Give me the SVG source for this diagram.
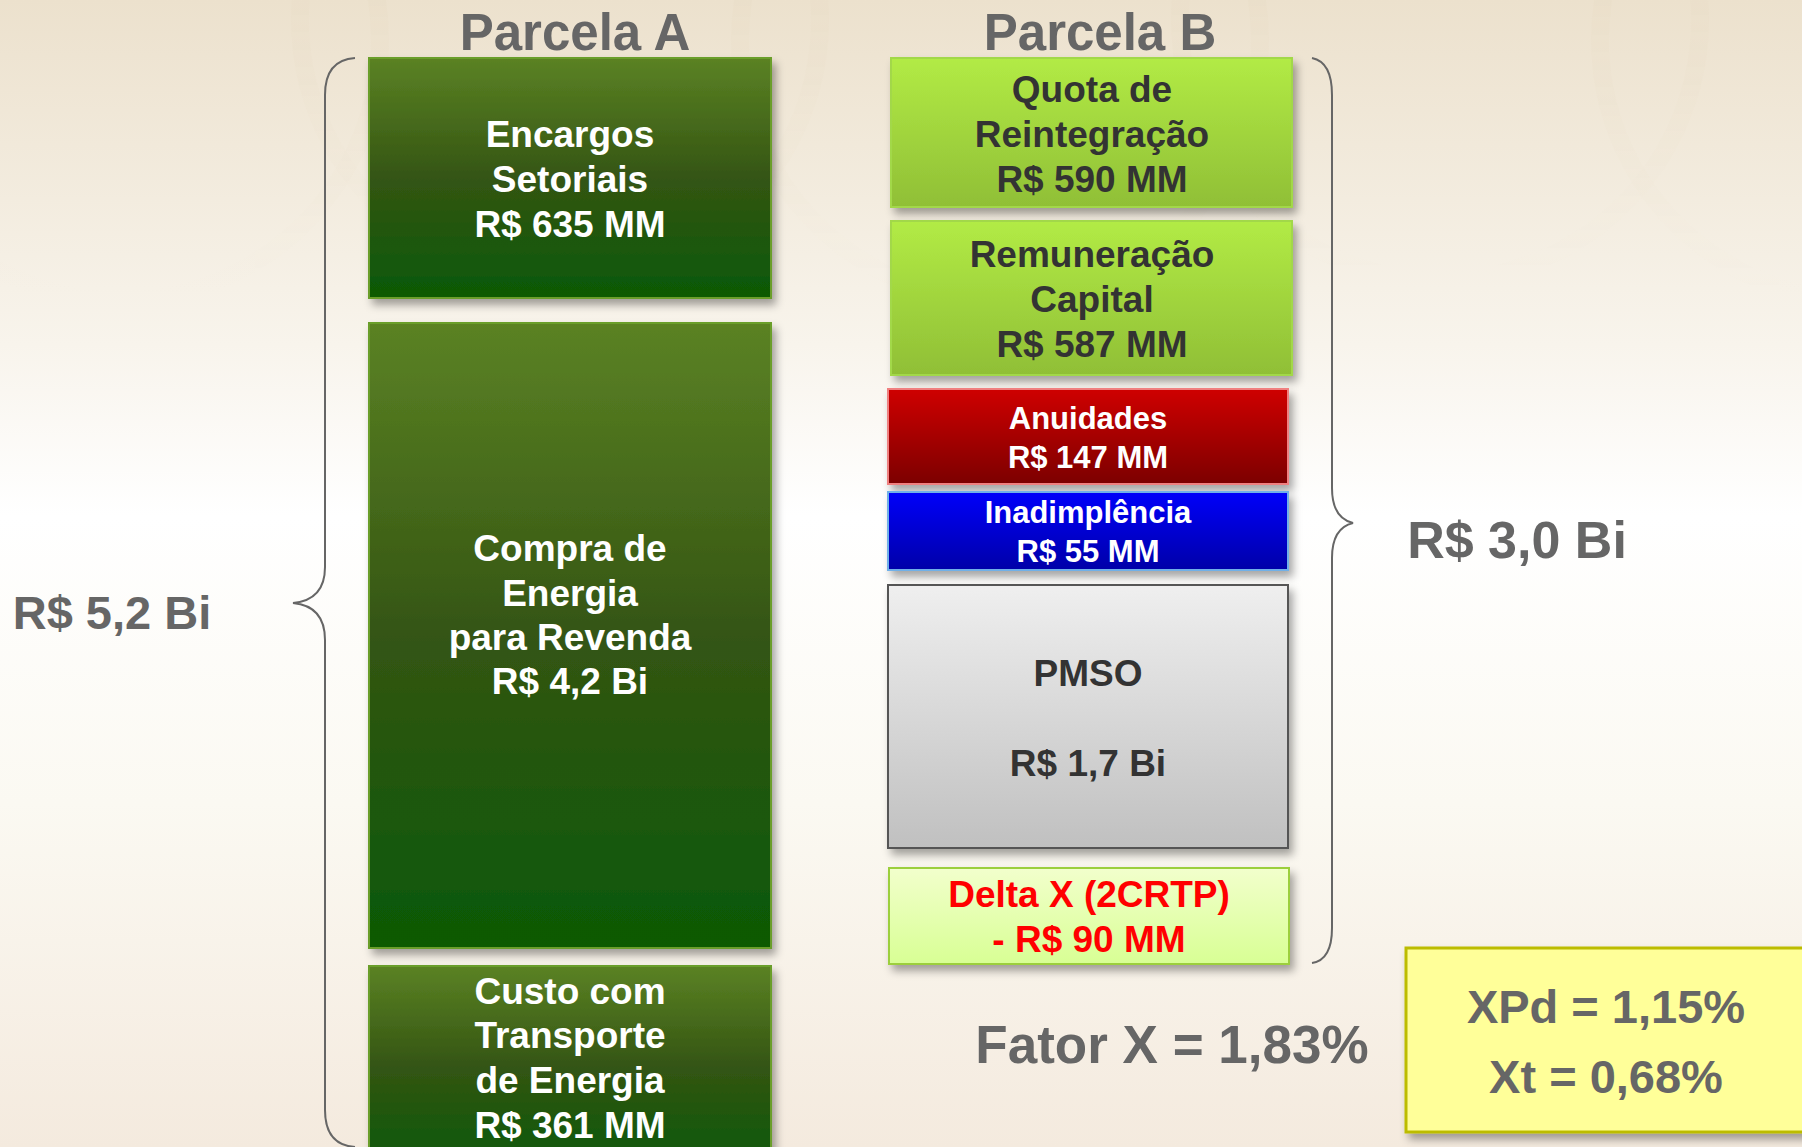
<svg xmlns="http://www.w3.org/2000/svg" width="1802" height="1147" viewBox="0 0 1802 1147">
<defs>
<linearGradient id="bg" x1="0" y1="0" x2="0" y2="1">
<stop offset="0" stop-color="#ece1cd"/>
<stop offset="0.3" stop-color="#f8f4ec"/>
<stop offset="0.45" stop-color="#ffffff"/>
<stop offset="0.7" stop-color="#fbf9f2"/>
<stop offset="1" stop-color="#f4eade"/>
</linearGradient>
<linearGradient id="fade" x1="0" y1="0" x2="0" y2="1">
<stop offset="0" stop-color="#d9c7a6" stop-opacity="0.35"/>
<stop offset="1" stop-color="#d9c7a6" stop-opacity="0"/>
</linearGradient>
<linearGradient id="gDark" x1="0" y1="0" x2="0" y2="1">
<stop offset="0" stop-color="#5b8224"/>
<stop offset="0.5" stop-color="#345513"/>
<stop offset="1" stop-color="#0a5a05"/>
</linearGradient>
<linearGradient id="gLight" x1="0" y1="0" x2="0" y2="1">
<stop offset="0" stop-color="#b2eb45"/>
<stop offset="1" stop-color="#90bf36"/>
</linearGradient>
<linearGradient id="gRed" x1="0" y1="0" x2="0" y2="1">
<stop offset="0" stop-color="#cf0000"/>
<stop offset="1" stop-color="#7c0000"/>
</linearGradient>
<linearGradient id="gBlue" x1="0" y1="0" x2="0" y2="1">
<stop offset="0" stop-color="#0000fa"/>
<stop offset="1" stop-color="#0000a8"/>
</linearGradient>
<linearGradient id="gGray" x1="0" y1="0" x2="0" y2="1">
<stop offset="0" stop-color="#efefef"/>
<stop offset="1" stop-color="#c0c0c0"/>
</linearGradient>
<linearGradient id="gDelta" x1="0" y1="0" x2="0" y2="1">
<stop offset="0" stop-color="#f2ffcc"/>
<stop offset="1" stop-color="#d8ff94"/>
</linearGradient>
<filter id="sh" x="-10%" y="-10%" width="125%" height="130%">
<feDropShadow dx="4" dy="6" stdDeviation="4" flood-color="#000" flood-opacity="0.35"/>
</filter>
<style>
text{font-family:"Liberation Sans",Arial,sans-serif;font-weight:bold;text-anchor:middle}
.w{fill:#ffffff;font-size:37px}
.d{fill:#333333;font-size:37px}
.ws{fill:#ffffff;font-size:31px}
.r{fill:#ff0000;font-size:37px}
.g{fill:#666666}
.brace{fill:none;stroke:#666666;stroke-width:2}
</style>
</defs>
<rect x="0" y="0" width="1802" height="1147" fill="url(#bg)"/>
<g opacity="0.35" fill="none" stroke="url(#fade)" stroke-width="18">
<circle cx="120" cy="40" r="260"/>
<circle cx="560" cy="20" r="260"/>
<circle cx="1000" cy="40" r="260"/>
<circle cx="1440" cy="20" r="260"/>
<circle cx="1860" cy="40" r="260"/>
</g>

<text class="g" x="575" y="50" font-size="51">Parcela A</text>
<text class="g" x="1100" y="50" font-size="51">Parcela B</text>

<g id="connectors">
<path class="brace" d="M355 58 Q325 60 325 95 L325 567 Q325 600 293 603 Q325 606 325 640 L325 1110 Q325 1145 355 1147"/>
<path class="brace" d="M1312 58 Q1332 62 1332 95 L1332 488 Q1332 518 1353 523 Q1332 528 1332 558 L1332 928 Q1332 960 1312 963"/>
</g>

<g id="encargos">
<rect x="369" y="58" width="402" height="240" fill="url(#gDark)" stroke="#6a9e2a" stroke-width="2" filter="url(#sh)"/>
<text class="w" x="570" y="147">Encargos</text>
<text class="w" x="570" y="192">Setoriais</text>
<text class="w" x="570" y="237">R$ 635 MM</text>
</g>
<g id="compra">
<rect x="369" y="323" width="402" height="625" fill="url(#gDark)" stroke="#6a9e2a" stroke-width="2" filter="url(#sh)"/>
<text class="w" x="570" y="561">Compra de</text>
<text class="w" x="570" y="606">Energia</text>
<text class="w" x="570" y="650">para Revenda</text>
<text class="w" x="570" y="694">R$ 4,2 Bi</text>
</g>
<g id="custo">
<rect x="369" y="966" width="402" height="200" fill="url(#gDark)" stroke="#6a9e2a" stroke-width="2" filter="url(#sh)"/>
<text class="w" x="570" y="1004">Custo com</text>
<text class="w" x="570" y="1048">Transporte</text>
<text class="w" x="570" y="1093">de Energia</text>
<text class="w" x="570" y="1138">R$ 361 MM</text>
</g>

<g id="quota">
<rect x="891" y="58" width="401" height="149" fill="url(#gLight)" stroke="#a2d84a" stroke-width="2" filter="url(#sh)"/>
<text class="d" x="1092" y="102">Quota de</text>
<text class="d" x="1092" y="147">Reintegração</text>
<text class="d" x="1092" y="192">R$ 590 MM</text>
</g>
<g id="remuneracao">
<rect x="891" y="221" width="401" height="154" fill="url(#gLight)" stroke="#a2d84a" stroke-width="2" filter="url(#sh)"/>
<text class="d" x="1092" y="267">Remuneração</text>
<text class="d" x="1092" y="312">Capital</text>
<text class="d" x="1092" y="357">R$ 587 MM</text>
</g>
<g id="anuidades">
<rect x="888" y="389" width="400" height="95" fill="url(#gRed)" stroke="#f08080" stroke-width="2" filter="url(#sh)"/>
<text class="ws" x="1088" y="429">Anuidades</text>
<text class="ws" x="1088" y="468">R$ 147 MM</text>
</g>
<g id="inadimplencia">
<rect x="888" y="492" width="400" height="78" fill="url(#gBlue)" stroke="#6fb0e8" stroke-width="2" filter="url(#sh)"/>
<text class="ws" x="1088" y="523">Inadimplência</text>
<text class="ws" x="1088" y="562">R$ 55 MM</text>
</g>
<g id="pmso">
<rect x="888" y="585" width="400" height="263" fill="url(#gGray)" stroke="#555555" stroke-width="2" filter="url(#sh)"/>
<text class="d" x="1088" y="686">PMSO</text>
<text class="d" x="1088" y="776">R$ 1,7 Bi</text>
</g>
<g id="delta">
<rect x="889" y="868" width="400" height="96" fill="url(#gDelta)" stroke="#9ccf3c" stroke-width="2" filter="url(#sh)"/>
<text class="r" x="1089" y="907">Delta X (2CRTP)</text>
<text class="r" x="1089" y="952">- R$ 90 MM</text>
</g>

<text class="g" x="112" y="629" font-size="47">R$ 5,2 Bi</text>
<text class="g" x="1517" y="558" font-size="52">R$ 3,0 Bi</text>
<text class="g" x="1172" y="1063" font-size="53">Fator X = 1,83%</text>

<g id="xbox">
<rect x="1406" y="948" width="420" height="184" fill="#ffff99" stroke="#bcbc00" stroke-width="3" filter="url(#sh)"/>
<text class="g" x="1606" y="1023" font-size="47">XPd = 1,15%</text>
<text class="g" x="1606" y="1093" font-size="47">Xt = 0,68%</text>
</g>
</svg>
